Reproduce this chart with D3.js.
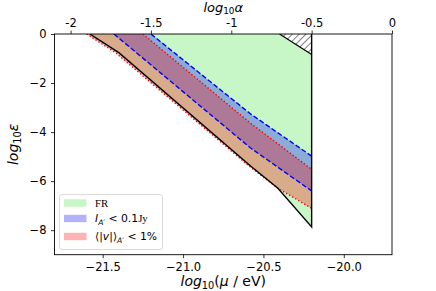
<!DOCTYPE html>
<html>
<head>
<meta charset="utf-8">
<script src="https://cdn.jsdelivr.net/npm/d3@7"></script>
<style>
  body { margin: 0; background: white; }
  text { font-family: "DejaVu Sans", sans-serif; fill: black; }
</style>
</head>
<body>
<div id="chart"></div>
<script>
// ticks
const muTicks = [-21.5, -21.0, -20.5, -20.0];
const alphaTicks = [-2, -1.5, -1, -0.5, 0];
const alphaLabels = ['-2', '-1.5', '-1', '-0.5', '0'];
const epsTicks = [0, -2, -4, -6, -8];

// region boundaries, [log10 mu, log10 eps]
const frLower = [[-21.58, 0], [-21.40, -0.76], [-20.58, -5.38], [-20.41, -6.29], [-20.2, -7.87]];
const hatchEdge = [[-20.40, 0], [-20.2, -0.84]];
const hatchCorner = [-20.2, 0];
const iUpper = [[-21.20, 0], [-20.58, -3.26], [-20.2, -4.98]];
const iLower = [[-21.43, 0], [-20.58, -4.65], [-20.2, -6.40]];
const vUpper = [[-21.25, 0], [-20.58, -3.64], [-20.2, -5.52]];
const vLower = [[-21.60, 0], [-21.42, -0.76], [-20.59, -5.38], [-20.41, -6.29], [-20.2, -7.11]];

const legendItems = ['FR', 'I', 'v'];
const legendColors = ['rgba(144,238,144,0.5)', 'rgba(0,0,255,0.3)', 'rgba(255,0,0,0.3)'];

const width = 436, height = 291;
const margin = { top: 34, right: 44, bottom: 36.3, left: 54.5 };

const svg = d3.select('#chart').append('svg')
    .attr('width', width)
    .attr('height', height);

const x = d3.scaleLinear().domain([-21.8, -19.7]).range([margin.left, width - margin.right]);
const xTop = d3.scaleLinear().domain([-2.1, 0]).range([margin.left, width - margin.right]);
const y = d3.scaleLinear().domain([-9, 0]).range([height - margin.bottom, margin.top]);

const line = d3.line().x(d => x(d[0])).y(d => y(d[1]));

svg.append('clipPath').attr('id', 'plot-clip')
    .append('rect')
    .attr('x', x(-21.8)).attr('y', y(0))
    .attr('width', x(-19.7) - x(-21.8))
    .attr('height', y(-9) - y(0));

const defs = svg.append('defs');
defs.append('pattern')
    .attr('id', 'hatch')
    .attr('patternUnits', 'userSpaceOnUse')
    .attr('width', 4.8).attr('height', 4.8)
    .attr('patternTransform', 'rotate(45)')
    .append('line')
    .attr('x1', 0).attr('y1', 0).attr('x2', 0).attr('y2', 4.8)
    .attr('stroke', 'black').attr('stroke-width', 1);

const plot = svg.append('g').attr('clip-path', 'url(#plot-clip)');

// FR region
const frPoly = [frLower[0]].concat(hatchEdge, frLower.slice().reverse());
plot.append('path')
    .attr('d', line(frPoly) + 'Z')
    .attr('fill', legendColors[0]);

// hatched excluded corner
plot.append('path')
    .attr('d', line(hatchEdge.concat([hatchCorner])) + 'Z')
    .attr('fill', 'url(#hatch)');

// I_A' band
plot.append('path')
    .attr('d', line(iUpper.concat(iLower.slice().reverse())) + 'Z')
    .attr('fill', legendColors[1]);

// <|v|> band
plot.append('path')
    .attr('d', line(vUpper.concat(vLower.slice().reverse())) + 'Z')
    .attr('fill', legendColors[2]);

[iUpper, iLower].forEach(b => {
    plot.append('path').attr('d', line(b))
        .attr('fill', 'none').attr('stroke', 'blue')
        .attr('stroke-width', 1.4).attr('stroke-dasharray', '5,2.3');
});
[vUpper, vLower].forEach(b => {
    plot.append('path').attr('d', line(b))
        .attr('fill', 'none').attr('stroke', 'red')
        .attr('stroke-width', 1.4).attr('stroke-dasharray', '1.4,2.1');
});

// FR borders
plot.append('path')
    .attr('d', line(frLower.concat([hatchCorner])))
    .attr('fill', 'none').attr('stroke', 'black').attr('stroke-width', 1.4);
plot.append('path')
    .attr('d', line(hatchEdge))
    .attr('fill', 'none').attr('stroke', 'black').attr('stroke-width', 1.2);

// axes
const xAxis = svg.append('g')
    .attr('transform', `translate(0,${y(-9)})`)
    .call(d3.axisBottom(x).tickValues(muTicks).tickFormat(d3.format('.1f')).tickSizeOuter(0).tickSize(3.5).tickPadding(4.5));
const topAxis = svg.append('g')
    .attr('transform', `translate(0,${y(0)})`)
    .call(d3.axisTop(xTop).tickValues(alphaTicks).tickFormat((d, i) => alphaLabels[i]).tickSizeOuter(0).tickSize(3.5).tickPadding(4));
const yAxis = svg.append('g')
    .attr('transform', `translate(${x(-21.8)},0)`)
    .call(d3.axisLeft(y).tickValues(epsTicks).tickFormat(d3.format('d')).tickSizeOuter(0).tickSize(3.5).tickPadding(4.5));

[xAxis, topAxis, yAxis].forEach(a => {
    a.attr('font-size', null).attr('font-family', null);
    a.selectAll('text').style('font-size', '11.5px').style('font-family', '"DejaVu Sans", sans-serif');
    a.selectAll('line').attr('stroke', 'black').attr('stroke-width', 0.8);
    a.select('.domain').remove();
});

svg.append('rect')
    .attr('x', x(-21.8)).attr('y', y(0))
    .attr('width', x(-19.7) - x(-21.8))
    .attr('height', y(-9) - y(0))
    .attr('fill', 'none').attr('stroke', 'black').attr('stroke-width', 0.9);

// axis titles
function mathLabel(sel, parts, size, subScale = 0.7) {
    parts.forEach(p => {
        const t = sel.append('tspan').text(p.t);
        if (p.it) t.style('font-style', 'italic');
        if (p.sub) t.style('font-size', (size * subScale) + 'px').attr('dy', p.dy);
        else if (p.dy) t.attr('dy', p.dy);
        if (p.serif) t.style('font-family', '"Liberation Serif", serif');
    });
}

// centre a multi-part label on its measured width
function centre(sel) {
    const w = sel.node().getComputedTextLength();
    sel.attr('x', +sel.attr('x') - w / 2);
}

const lblSize = 14;
const midX = (x(-21.8) + x(-19.7)) / 2;
const xLabel = svg.append('text')
    .attr('x', midX).attr('y', 285.5)
    .style('font-size', lblSize + 'px');
mathLabel(xLabel, [{ t: 'log', it: true }, { t: '10', sub: true, dy: 3 }, { t: '(', dy: -3 }, { t: 'μ', it: true }, { t: ' / eV)' }], lblSize);
centre(xLabel);

const topSize = 13;
const topLabel = svg.append('text')
    .attr('x', midX).attr('y', 12)
    .style('font-size', topSize + 'px');
mathLabel(topLabel, [{ t: 'log', it: true }, { t: '10', sub: true, dy: 2 }, { t: 'α', it: true, dy: -2 }], topSize, 0.68);
centre(topLabel);

const yLabel = svg.append('text')
    .attr('transform', `translate(18,${(y(0) + y(-9)) / 2}) rotate(-90)`)
    .attr('x', 0).attr('y', 0)
    .style('font-size', lblSize + 'px');
mathLabel(yLabel, [{ t: 'log', it: true }, { t: '10', sub: true, dy: 3 }, { t: 'ε', it: true, dy: -3 }], lblSize);
centre(yLabel);

// legend
const legend = svg.append('g').attr('transform', 'translate(59.5,194.5)');
legend.append('rect')
    .attr('width', 103).attr('height', 55)
    .attr('rx', 2.5)
    .attr('fill', 'rgba(255,255,255,0.8)')
    .attr('stroke', '#d0d0d0').attr('stroke-width', 0.8);

const rowY = [8.5, 24, 42];
const lgSize = 10.8;
legend.selectAll(null)
    .data(legendItems)
    .enter()
    .append('g')
    .attr('transform', (d, i) => `translate(0, ${rowY[i]})`)
    .each(function(d, i) {
        const g = d3.select(this);
        g.append('rect')
            .attr('x', 4.5).attr('y', -3.7)
            .attr('width', 22.5).attr('height', 7.4)
            .attr('fill', legendColors[i]);
        const t = g.append('text')
            .attr('x', 35.5).attr('y', 3.8)
            .style('font-size', lgSize + 'px');
        if (d === 'FR') {
            mathLabel(t, [{ t: 'FR', serif: true }], lgSize);
        } else if (d === 'I') {
            mathLabel(t, [{ t: 'I', it: true }, { t: 'A′', it: true, sub: true, dy: 2.5 }, { t: ' < 0.1', dy: -2.5 }, { t: 'Jy', serif: true }], lgSize);
        } else {
            mathLabel(t, [{ t: '⟨|' }, { t: 'v', it: true }, { t: '|⟩' }, { t: 'A′', it: true, sub: true, dy: 2.5 }, { t: ' < 1%', dy: -2.5 }], lgSize);
        }
    });
</script>
</body>
</html>
